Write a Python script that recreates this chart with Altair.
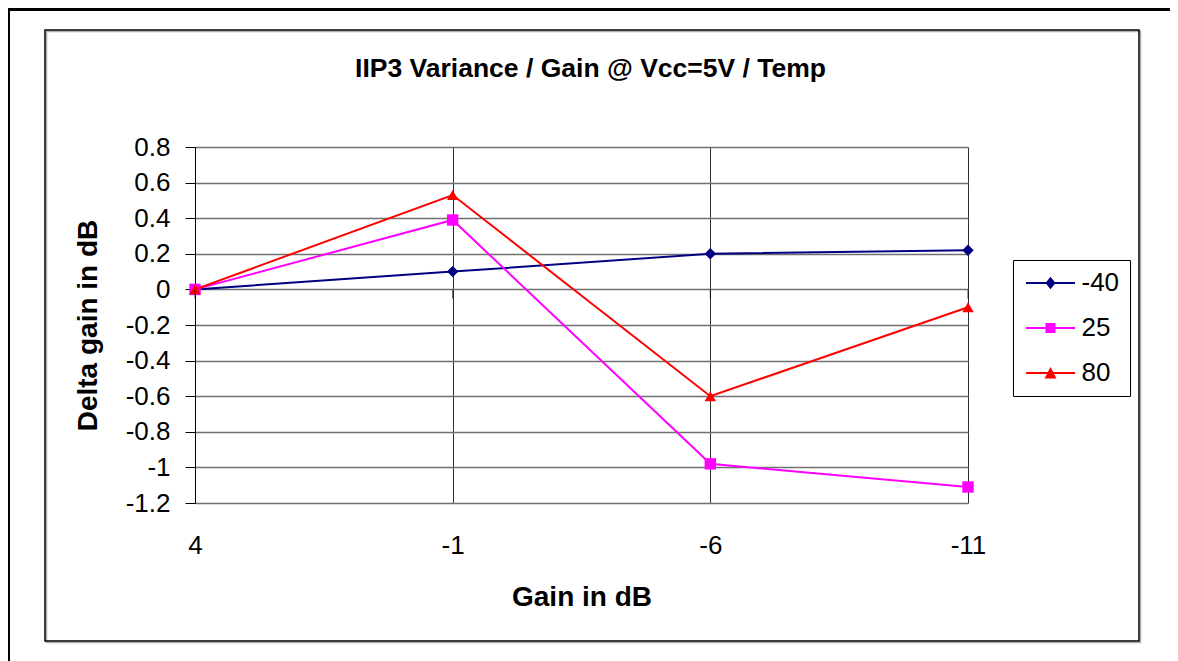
import altair as alt
import pandas as pd

# ---- data ----
gains = ["4", "-1", "-6", "-11"]
series = ["-40", "25", "80"]
vals_m40 = [0.0, 0.1, 0.2, 0.22]
vals_25 = [0.0, 0.39, -0.98, -1.11]
vals_80 = [0.0, 0.53, -0.6, -0.1]
y_ticks = [-1.2, -1.0, -0.8, -0.6, -0.4, -0.2, 0.0, 0.2, 0.4, 0.6, 0.8]
colors = ["#000080", "#FF00FF", "#FF0000"]
shapes = ["diamond", "square", "triangle-up"]
# legend symbols: a thin bar (the line) with the marker in its middle, unit coordinates
legend_paths = [
    "M-2.04,-0.085H2.04V0.085H-2.04Z M0,-0.52L0.42,0L0,0.52L-0.42,0Z",
    "M-2.04,-0.085H2.04V0.085H-2.04Z M-0.42,-0.42H0.42V0.42H-0.42Z",
    "M-2.04,-0.085H2.04V0.085H-2.04Z M0,-0.5L0.5,0.45H-0.5Z",
]

rows = []
for s, vals in zip(series, [vals_m40, vals_25, vals_80]):
    for g, v in zip(gains, vals):
        rows.append({"gain": g, "series": s, "value": v})
df = pd.DataFrame(rows)
ticks_df = pd.DataFrame({"gain": gains})
frame_df = pd.DataFrame({"k": [0]})

FONT = "Liberation Sans"

# plot area placement (pixels, relative to the svg)
PL, PT, W, H = 187, 139, 773, 356
SVG_W, SVG_H = 1162, 653

x_scale = alt.Scale(type="point", padding=0)
x_enc = alt.X(
    "gain:O",
    sort=gains,
    scale=x_scale,
    axis=alt.Axis(
        title="Gain in dB",
        titleFont=FONT, titleFontSize=28, titleFontWeight="bold", titleColor="black",
        titlePadding=25,
        labelFont=FONT, labelFontSize=26, labelColor="black", labelAngle=0,
        labelPadding=29,
        ticks=False, domain=False,
        grid=True, gridColor="#303030", gridWidth=1,
    ),
)
y_enc = alt.Y(
    "value:Q",
    scale=alt.Scale(domain=[-1.2, 0.8], nice=False, zero=False),
    axis=alt.Axis(
        title="Delta gain in dB",
        titleFont=FONT, titleFontSize=28, titleFontWeight="bold", titleColor="black",
        titlePadding=23,
        values=y_ticks, tickCount=len(y_ticks), labelOverlap=False,
        labelExpr="'' + round(datum.value * 10) / 10",
        labelFont=FONT, labelFontSize=26, labelColor="black", labelPadding=15,
        tickSize=10, tickColor="black", tickWidth=1,
        domain=True, domainColor="black", domainWidth=1,
        grid=True, gridColor="#707070", gridWidth=1.5,
    ),
)

legend = alt.Legend(
    title=None,
    orient="none", legendX=818, legendY=113,
    strokeColor="black", fillColor="white", padding=10, cornerRadius=0,
    labelFont=FONT, labelFontSize=26, labelColor="black",
    symbolSize=576, symbolOffset=14.5, rowPadding=19, labelOffset=18,
    symbolOpacity=1, symbolStrokeWidth=0,
)

base = alt.Chart(df)

series_layers = []
for s, c, shp in zip(series, colors, shapes):
    sub = base.transform_filter(alt.datum.series == s)
    series_layers.append(sub.mark_line(strokeWidth=2, color=c).encode(x=x_enc, y=y_enc))
    series_layers.append(
        sub.mark_point(filled=True, size=130, opacity=1, shape=shp, color=c).encode(x=x_enc, y=y_enc)
    )

legend_layer = (
    base.transform_filter("false")
    .mark_point(filled=True, strokeWidth=0)
    .encode(
        x=x_enc, y=y_enc,
        color=alt.Color("series:N", scale=alt.Scale(domain=series, range=colors), sort=series, legend=legend),
        shape=alt.Shape("series:N", scale=alt.Scale(domain=series, range=legend_paths), sort=series, legend=legend),
    )
)
zero_ticks = alt.Chart(ticks_df).mark_tick(
    orient="vertical", size=9, thickness=1, color="black", yOffset=4.5
).encode(x=alt.X("gain:O", sort=gains, scale=x_scale), y=alt.datum(0))

inner_shadow = alt.Chart(frame_df).mark_rect(
    fillOpacity=0, stroke="#b0b0b0", strokeWidth=1.5
).encode(
    x=alt.value(45 - 195 + 1.5), x2=alt.value(1139 - 195 + 1.5),
    y=alt.value(30 - 147 + 1.5), y2=alt.value(641 - 147 + 1.5),
)
inner_frame = alt.Chart(frame_df).mark_rect(
    fillOpacity=0, stroke="black", strokeWidth=1.5
).encode(
    x=alt.value(45 - 195), x2=alt.value(1139 - 195),
    y=alt.value(30 - 147), y2=alt.value(641 - 147),
)
outer_frame = alt.Chart(frame_df).mark_rect(
    fillOpacity=0, stroke="black", strokeWidth=3
).encode(
    x=alt.value(-186.5), x2=alt.value(1200),
    y=alt.value(-137.5), y2=alt.value(800),
)

chart = (
    alt.layer(outer_frame, inner_shadow, inner_frame, *series_layers, zero_ticks, legend_layer)
    .properties(
        width=W, height=H,
        autosize=alt.AutoSizeParams(type="none"),
        padding={"left": PL, "top": PT, "right": SVG_W - PL - W, "bottom": SVG_H - PT - H},
        title=alt.TitleParams(
            "IIP3 Variance / Gain @ Vcc=5V / Temp",
            font=FONT, fontSize=26.5, fontWeight="bold", color="black",
            anchor="middle", dx=9, offset=-74,
        ),
    )
    .configure_view(stroke="#808080", strokeWidth=2)
    .configure(background="white")
)

chart.save("out.html", embed_options={"renderer": "svg", "actions": False})
